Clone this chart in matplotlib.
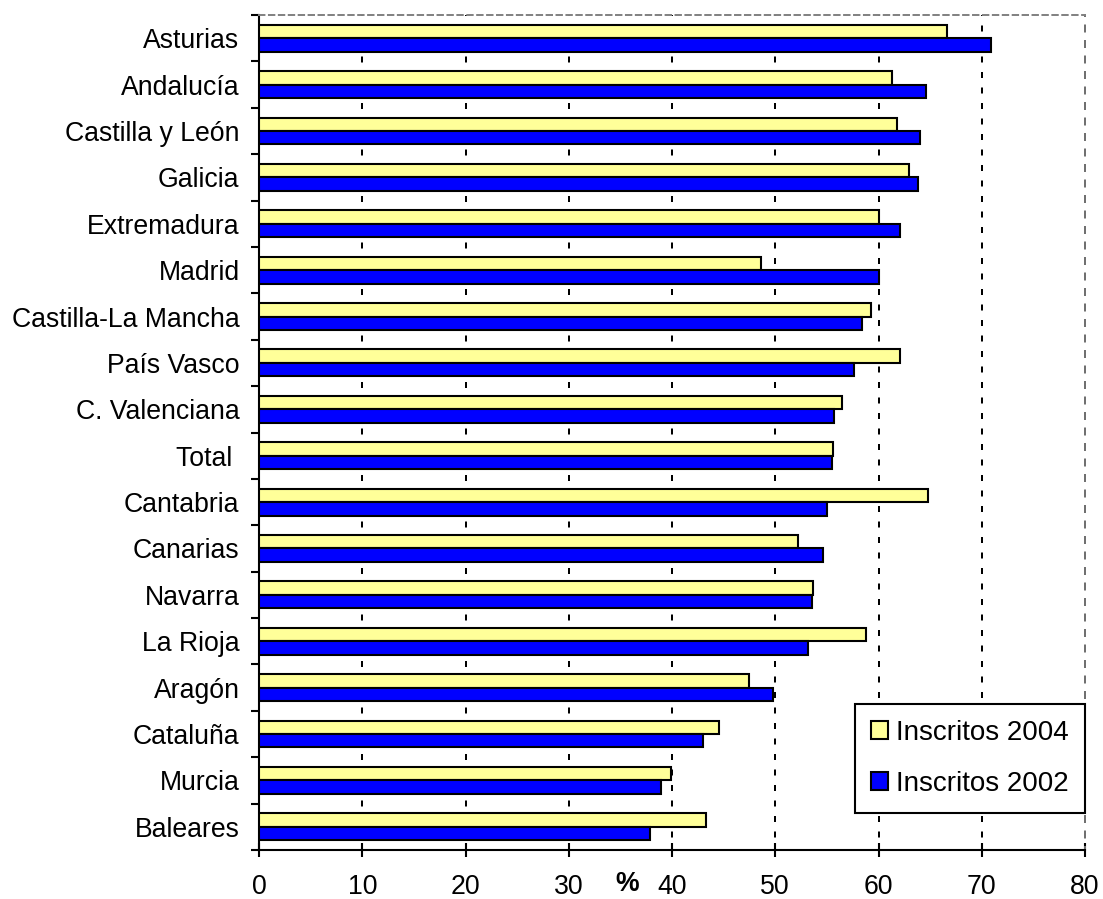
import matplotlib
matplotlib.use('Agg')
import matplotlib.pyplot as plt
import numpy as np

# Porcentaje de inscritos por comunidad autónoma
regiones = ["Asturias", "Andalucía", "Castilla y León", "Galicia", "Extremadura",
            "Madrid", "Castilla-La Mancha", "País Vasco", "C. Valenciana", "Total ",
            "Cantabria", "Canarias", "Navarra", "La Rioja", "Aragón", "Cataluña",
            "Murcia", "Baleares"]
inscritos_2004 = [66.6, 61.3, 61.8, 63.0, 60.0, 48.6, 59.3, 62.1, 56.5, 55.6,
                  64.8, 52.2, 53.7, 58.8, 47.5, 44.6, 39.9, 43.3]
inscritos_2002 = [70.9, 64.6, 64.0, 63.8, 62.1, 60.0, 58.4, 57.6, 55.7, 55.5,
                  55.0, 54.6, 53.6, 53.2, 49.8, 43.0, 38.9, 37.9]
x_ticks = [0, 10, 20, 30, 40, 50, 60, 70, 80]

plt.rcParams['font.family'] = ['Liberation Sans', 'DejaVu Sans']
FS = 19.2

fig = plt.figure(figsize=(11.03, 8.99), dpi=100)
ax = fig.add_axes([259 / 1103, 1 - 850 / 899, 826 / 1103, 835 / 899])

y = np.arange(len(regiones))
h = 0.29
ax.barh(y - h / 2, inscritos_2004, height=h, color='#FFFF99', edgecolor='black',
        linewidth=1.5, label='Inscritos 2004', zorder=3)
ax.barh(y + h / 2, inscritos_2002, height=h, color='#0000FF', edgecolor='black',
        linewidth=1.5, label='Inscritos 2002', zorder=3)

ax.set_xlim(0, 80)
ax.set_ylim(len(regiones) - 0.5, -0.5)

# líneas de cuadrícula discontinuas
dash = (1.5, (3.0, 4.75))
for xv in x_ticks[1:-1]:
    ax.axvline(xv, 0, 1, color='black', linewidth=1.44, linestyle=dash, zorder=1)

ax.spines['top'].set_color('#808080')
ax.spines['top'].set_linewidth(1.4)
ax.spines['top'].set_linestyle((0, (2.8, 2.3)))
ax.spines['right'].set_color('#707070')
ax.spines['right'].set_linewidth(1.44)
ax.spines['right'].set_linestyle(dash)
ax.spines['left'].set_linewidth(1.5)
ax.spines['bottom'].set_linewidth(1.5)

ax.set_xticks(x_ticks)
ax.set_xticklabels([str(v) for v in x_ticks], fontsize=FS)
ax.tick_params(axis='x', direction='inout', length=9.5, width=1.5, pad=12.5)

ax.set_yticks(y)
ax.set_yticklabels(regiones, fontsize=FS)
ax.set_yticks(np.arange(-0.5, len(regiones), 1.0), minor=True)
ax.tick_params(axis='y', which='major', length=0, pad=14)
ax.tick_params(axis='y', which='minor', direction='out', length=5.5, width=1.5)

fig.text(627 / 1103, 2 / 899, '%', fontsize=FS, fontweight='bold',
         ha='center', va='bottom')

leg = ax.legend(loc='lower right', bbox_to_anchor=(1.0, 0.0443), fontsize=FS + 0.8,
                frameon=True, fancybox=False, framealpha=1, edgecolor='black',
                handlelength=0.6, handleheight=0.6, handletextpad=0.3,
                labelspacing=0.9, borderpad=0.58, borderaxespad=0)
leg.get_frame().set_linewidth(1.5)

fig.savefig('out.png', dpi=100)
